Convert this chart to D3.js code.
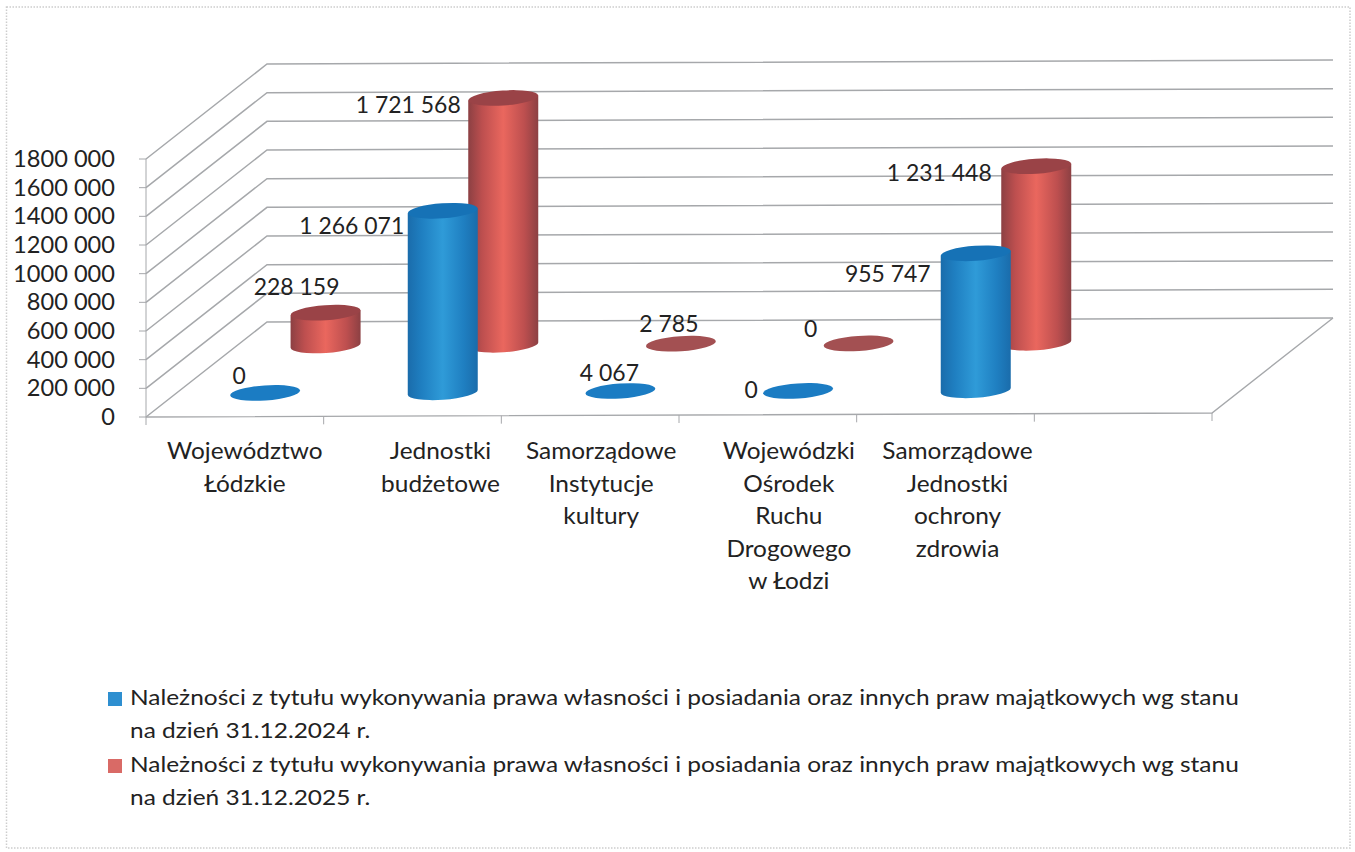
<!DOCTYPE html>
<html><head><meta charset="utf-8">
<script src="https://cdn.jsdelivr.net/npm/d3@7/dist/d3.min.js"></script>
<style>html,body{margin:0;padding:0;background:#fff}svg{display:block}text{font-family:Lato,"Open Sans",sans-serif;fill:#222}</style>
</head><body><svg id="c" width="1355" height="852"></svg>
<script>
const categories = [
  ["Województwo","Łódzkie"],
  ["Jednostki","budżetowe"],
  ["Samorządowe","Instytucje","kultury"],
  ["Wojewódzki","Ośrodek","Ruchu","Drogowego","w Łodzi"],
  ["Samorządowe","Jednostki","ochrony","zdrowia"]
];
const series2024 = [0, 1266071, 4067, 0, 955747];
const series2025 = [228159, 1721568, 2785, 0, 1231448];
const valueTicks = [0,200000,400000,600000,800000,1000000,1200000,1400000,1600000,1800000];
const tickLabels = ["0","200 000","400 000","600 000","800 000","1000 000","1200 000","1400 000","1600 000","1800 000"];
const legendLines = [
  ["Należności z tytułu wykonywania prawa własności i posiadania oraz innych praw majątkowych wg stanu","na dzień 31.12.2024 r."],
  ["Należności z tytułu wykonywania prawa własności i posiadania oraz innych praw majątkowych wg stanu","na dzień 31.12.2025 r."]
];
const fmt = v => d3.format(",")(v).replace(/,/g," ");

const svg = d3.select("#c");
const defs = svg.append("defs");
// page frame
svg.append("rect").attr("x",6.5).attr("y",7).attr("width",1343.5).attr("height",841)
  .attr("fill","none").attr("stroke","#cdcdcd").attr("stroke-width",1.5).attr("stroke-dasharray","1.5 1.5");

// scales
const xBand = d3.scaleBand().domain([0,1,2,3,4,5]).range([146,1212]);
const yVal = d3.scaleLinear().domain([0,1800000]).range([0,-258]);
const tilt = d3.scaleLinear().domain([146,1212]).range([417,413]);
const depth = {x:d3.scaleLinear().domain([0,1]).range([0,121]), y:d3.scaleLinear().domain([0,1]).range([0,-95])};
const pt = (x,d,v) => [x+depth.x(d), tilt(x)+depth.y(d)+yVal(v)];

const gridCol="#a6a8ab";
const G = svg.append("g");
// walls
valueTicks.forEach(v=>{
  const a=pt(146,0,v), b=pt(146,1,v), c=pt(1212,1,v);
  G.append("path").attr("d",d3.line()([a,b,c])).attr("fill","none").attr("stroke",gridCol).attr("stroke-width",1.5);
  G.append("line").attr("x1",a[0]-7).attr("x2",a[0]).attr("y1",a[1]).attr("y2",a[1]).attr("stroke",gridCol);
});
G.append("line").attr("x1",146).attr("x2",146).attr("y1",pt(146,0,0)[1]).attr("y2",pt(146,0,1800000)[1]).attr("stroke",gridCol);
const fl=pt(146,0,0), fr=pt(1212,0,0), br=pt(1212,1,0);
G.append("path").attr("d",d3.line()([fl,fr,br])).attr("fill","none").attr("stroke",gridCol).attr("stroke-width",1.4);
d3.range(7).forEach(i=>{
  const x=146+i*xBand.step(), y=tilt(x);
  G.append("line").attr("x1",x).attr("x2",x).attr("y1",y).attr("y2",y+8).attr("stroke",gridCol);
});

// gradients
function grad(id,edge,mid,hi){
  const g=defs.append("linearGradient").attr("id",id);
  [[0,edge],[.2,mid],[.5,hi],[.8,mid],[1,edge]].forEach(s=>g.append("stop").attr("offset",s[0]).attr("stop-color",s[1]));
}
grad("gb","#1a6cab","#1f7fc1","#2f9bd8");
grad("gr","#8c4043","#bd4f4f","#ea675e");

const rx=35, ry=7.5, rot=-4;
function cyl(g,values,d,fill,cap,flat){
  values.forEach((v,i)=>{
    const x=xBand(i)+xBand.bandwidth()/2;
    const b=pt(x,d,0), t=pt(x,d,v);
    if(v>4100 ){
      const dy=rx*Math.sin(rot*Math.PI/180);
      const path=`M${b[0]-rx},${b[1]-dy} L${t[0]-rx},${t[1]-dy} L${t[0]+rx},${t[1]+dy} L${b[0]+rx},${b[1]+dy} A${rx},${ry} ${rot} 0 1 ${b[0]-rx},${b[1]-dy} Z`;
      g.append("path").attr("d",path).attr("fill",`url(#${fill})`);
    }
    g.append("ellipse").attr("rx",rx).attr("ry",ry)
      .attr("transform",`translate(${t[0]},${t[1]}) rotate(${rot})`)
      .attr("fill",v>4100?cap:flat);
  });
}
const M = svg.append("g");
cyl(M,series2025,.75,"gr","#9a4347","#a35052");
cyl(M,series2024,.25,"gb","#1672b6","#1b7cc3");

const FS=22.5;
// stretched text helper: the reference face is wider than Lato
function txt(x,y,s,size,sx,anchor){
  svg.append("text").attr("transform",`translate(${x},${y}) scale(${sx},1)`)
    .attr("text-anchor",anchor).attr("font-size",size).text(s);
}
// data labels (offsets from cylinder top)
const off24=[[-26,-9],[-91,23],[-11,-10],[-47,7],[-88,29]];
const off25=[[-29,-18],[-95,15],[-12,-12],[-48,-6],[-97,15]];
function labels(values,d,offs){
  values.forEach((v,i)=>{
    const x=xBand(i)+xBand.bandwidth()/2, t=pt(x,d,v);
    txt(t[0]+offs[i][0],t[1]+offs[i][1],fmt(v),FS,1.02,"middle");
  });
}
labels(series2024,.25,off24);
labels(series2025,.75,off25);

// axis labels
valueTicks.forEach((v,i)=>{
  txt(115,pt(146,0,v)[1]+8,tickLabels[i],FS,1.05,"end");
});
const catDx=[10,28,11,21,12];
categories.forEach((lines,i)=>{
  const x=xBand(i)+xBand.bandwidth()/2+catDx[i];
  lines.forEach((s,j)=>txt(x,459+j*32.5,s,FS,1.085,"middle"));
});
// legend
const legCol=["#2e8fd0","#d96a66"];
legendLines.forEach((ls,i)=>{
  const y0=705+i*67;
  svg.append("rect").attr("x",108).attr("y",y0-13).attr("width",14).attr("height",14).attr("fill",legCol[i]);
  ls.forEach((s,j)=>txt(130,y0+j*33,s,22,1.111,"start"));
});
</script></body></html>
